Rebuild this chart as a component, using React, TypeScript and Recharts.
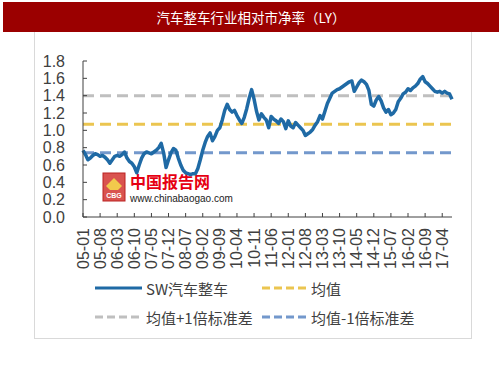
import React from 'react';
import { LineChart, Line, XAxis, YAxis, ReferenceLine } from 'recharts';

const titleText = '汽车整车行业相对市净率（LY）';
const seriesName = 'SW汽车整车';
const meanName = '均值';
const plusName = '均值+1倍标准差';
const minusName = '均值-1倍标准差';

const xTickLabels = [
  '05-01', '05-08', '06-03', '06-10', '07-05', '07-12', '08-07', '09-02', '09-09', '10-04', '10-11',
  '11-06', '12-01', '12-08', '13-03', '13-10', '14-05', '14-12', '15-07', '16-02', '16-09', '17-04',
];
const monthsPerTick = 7;

// monthly relative P/B, 2005-01 .. 2017-08
const swAuto = [
  0.77, 0.72, 0.66, 0.68, 0.71, 0.73, 0.72, 0.70, 0.71, 0.69,
  0.66, 0.62, 0.66, 0.70, 0.71, 0.70, 0.72, 0.75, 0.68, 0.64,
  0.62, 0.58, 0.51, 0.60, 0.68, 0.73, 0.75, 0.74, 0.73, 0.75,
  0.77, 0.80, 0.85, 0.74, 0.57, 0.66, 0.74, 0.79, 0.77, 0.68,
  0.60, 0.54, 0.51, 0.50, 0.49, 0.50, 0.50, 0.56, 0.66, 0.77,
  0.86, 0.93, 0.97, 0.88, 0.93, 1.00, 1.03, 1.12, 1.23, 1.30,
  1.24, 1.21, 1.23, 1.17, 1.12, 1.08, 1.15, 1.25, 1.37, 1.47,
  1.36, 1.22, 1.12, 1.19, 1.15, 1.12, 1.03, 1.16, 1.13, 1.11,
  1.08, 1.13, 1.10, 1.02, 1.11, 1.05, 1.03, 1.09, 1.06, 1.03,
  1.00, 0.94, 0.96, 0.98, 1.01, 1.06, 1.10, 1.17, 1.13, 1.22,
  1.31, 1.37, 1.43, 1.45, 1.47, 1.48, 1.50, 1.52, 1.54, 1.56,
  1.57, 1.45, 1.50, 1.55, 1.58, 1.56, 1.53, 1.46, 1.30, 1.28,
  1.35, 1.39, 1.34, 1.26, 1.21, 1.24, 1.18, 1.20, 1.24, 1.33,
  1.37, 1.42, 1.44, 1.48, 1.46, 1.49, 1.51, 1.54, 1.59, 1.62,
  1.56, 1.54, 1.51, 1.48, 1.45, 1.44, 1.45, 1.43, 1.45, 1.43,
  1.42, 1.36,
];

const meanValue = 1.07;
const meanPlusSd = 1.40;
const meanMinusSd = 0.74;
const yTicks = [0, 0.2, 0.4, 0.6, 0.8, 1.0, 1.2, 1.4, 1.6, 1.8];

const data = swAuto.map((v, i) => ({ i, v }));
const xTicks = xTickLabels.map((_, k) => k * monthsPerTick);

const BLUE = '#1F6AA5';
const YELLOW = '#EBC550';
const GRAY = '#BFBFBF';
const LBLUE = '#7398CC';
const TEXT = '#404040';
const AXIS = '#404040';
const FONT = '"Liberation Sans", Arial, sans-serif';
const CJK = '"Noto Sans CJK SC", "Liberation Sans", sans-serif';

const XTick = (props: any) => {
  const { x, y, payload } = props;
  const idx = Math.round(payload.value / monthsPerTick);
  const label = xTickLabels[idx] ?? '';
  return (
    <g>
      <line x1={x} y1={y} x2={x} y2={y - 4} stroke={AXIS} strokeWidth={1} />
      <text
        x={x}
        y={y + 11}
        transform={`rotate(-90 ${x} ${y + 11})`}
        textAnchor="end"
        dominantBaseline="central"
        fontSize={16}
        fill={TEXT}
        fontFamily={FONT}
      >
        {label}
      </text>
    </g>
  );
};

const YTick = (props: any) => {
  const { x, y, payload } = props;
  return (
    <g>
      <line x1={x} y1={y} x2={x + 4} y2={y} stroke={AXIS} strokeWidth={1} />
      <text x={x - 18} y={y} textAnchor="end" dominantBaseline="central" fontSize={16} fill={TEXT} fontFamily={FONT}>
        {Number(payload.value).toFixed(1)}
      </text>
    </g>
  );
};

const LegendOverlay = () => (
  <svg width={503} height={378} style={{ position: 'absolute', left: 0, top: 0, pointerEvents: 'none' }}>
    <line x1={95} y1={288} x2={142} y2={288} stroke={BLUE} strokeWidth={3} />
    <text x={146} y={288} dominantBaseline="central" fontSize={15} fill={TEXT} fontFamily={CJK}>{seriesName}</text>
    <line x1={262} y1={288} x2={307} y2={288} stroke={YELLOW} strokeWidth={3} strokeDasharray="8 4" />
    <text x={311} y={288} dominantBaseline="central" fontSize={15} fill={TEXT} fontFamily={CJK}>{meanName}</text>
    <line x1={95} y1={317} x2={142} y2={317} stroke={GRAY} strokeWidth={3} strokeDasharray="8 4" />
    <text x={146} y={317} dominantBaseline="central" fontSize={15} fill={TEXT} fontFamily={CJK}>{plusName}</text>
    <line x1={262} y1={317} x2={307} y2={317} stroke={LBLUE} strokeWidth={3} strokeDasharray="8 4" />
    <text x={311} y={317} dominantBaseline="central" fontSize={15} fill={TEXT} fontFamily={CJK}>{minusName}</text>
  </svg>
);

const Watermark = () => (
  <svg width={503} height={378} style={{ position: 'absolute', left: 0, top: 0 }}>
    <rect x={103} y={173} width={22} height={28} fill="#D9534F" stroke="#B22" strokeWidth={1} />
    <path d="M106 186 L114 178 L122 186 L118 190 L110 190 Z" fill="#F2C94C" />
    <text x={114} y={198} textAnchor="middle" fontSize={7} fontWeight="bold" fill="#fff" fontFamily={FONT}>CBG</text>
    <text x={130} y={181} dominantBaseline="central" fontSize={16} fontWeight="bold" fill="#E60012" fontFamily={CJK}>中国报告网</text>
    <text x={130} y={198} dominantBaseline="central" fontSize={10} fill="#222" fontFamily={FONT}>www.chinabaogao.com</text>
  </svg>
);

export default function App() {
  return (
    <div style={{ position: 'absolute', left: 0, top: 0, width: 503, height: 378, background: '#fff', overflow: 'hidden' }}>
      <div style={{ position: 'absolute', left: 34, top: 32, width: 436, height: 306, borderLeft: '1px solid #D9D9D9', borderRight: '1px solid #D9D9D9', borderBottom: '1px solid #D9D9D9' }} />
      <div
        style={{
          position: 'absolute', left: 3, top: 2, width: 496, height: 30, background: '#9B0000', color: '#fff',
          fontFamily: CJK, fontSize: 13.5, lineHeight: '30px', textAlign: 'center',
        }}
      >
        {titleText}
      </div>
      <Watermark />
      <div style={{ position: 'absolute', left: 0, top: 0 }}>
        <LineChart width={503} height={378} data={data} margin={{ top: 61, right: 51, left: 0, bottom: 0 }}>
          <XAxis
            dataKey="i"
            type="number"
            domain={[0, swAuto.length - 1]}
            ticks={xTicks}
            interval={0}
            height={161}
            tickLine={false}
            tickSize={0}
            tickMargin={0}
            axisLine={{ stroke: AXIS, strokeWidth: 1 }}
            tick={<XTick />}
          />
          <YAxis
            type="number"
            domain={[0, 1.8]}
            ticks={yTicks}
            interval={0}
            width={83}
            tickLine={false}
            tickSize={0}
            tickMargin={0}
            axisLine={{ stroke: AXIS, strokeWidth: 1 }}
            tick={<YTick />}
          />
          <ReferenceLine y={meanPlusSd} stroke={GRAY} strokeWidth={3} strokeDasharray="11 6" />
          <ReferenceLine y={meanValue} stroke={YELLOW} strokeWidth={3} strokeDasharray="11 6" />
          <ReferenceLine y={meanMinusSd} stroke={LBLUE} strokeWidth={3} strokeDasharray="11 6" />
          <Line
            type="linear"
            dataKey="v"
            stroke={BLUE}
            strokeWidth={3.5}
            dot={false}
            strokeLinejoin="round"
            isAnimationActive={false}
          />
        </LineChart>
      </div>
      <LegendOverlay />
    </div>
  );
}
